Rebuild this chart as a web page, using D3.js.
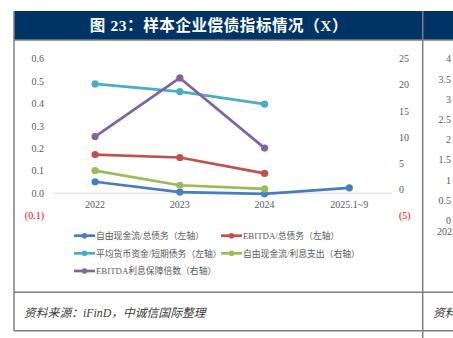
<!DOCTYPE html>
<html><head><meta charset="utf-8">
<script src="https://cdn.jsdelivr.net/npm/d3@7"></script>
<style>
html,body{margin:0;padding:0;background:#fff;}
svg{display:block;}
</style></head>
<body><svg id="c" width="453" height="338"></svg>
<script>
// ---- data ----
const categories = ["2022","2023","2024","2025.1~9"];
const fcfDebt      = [0.051, 0.005, -0.003, 0.024];   // 自由现金流/总债务 (left)
const ebitdaDebt   = [0.172, 0.159, 0.088, null];     // EBITDA/总债务 (left)
const cashShort    = [0.487, 0.453, 0.397, null];     // 平均货币资金/短期债务 (left)
const fcfInterest  = [3.6, 0.8, 0.1, null];           // 自由现金流/利息支出 (right)
const ebitdaCover  = [10.1, 21.3, 7.9, null];         // EBITDA利息保障倍数 (right)
const leftTicks  = [-0.1,0,0.1,0.2,0.3,0.4,0.5,0.6];
const rightTicks = [-5,0,5,10,15,20,25];
const neighborTicks = ["4","3.5","3","2.5","2","1.5","1","0.5","0"];
const seriesNames = ["自由现金流/总债务（左轴）","EBITDA/总债务（左轴）","平均货币资金/短期债务（左轴）","自由现金流/利息支出（右轴）","EBITDA利息保障倍数（右轴）"];
const titleText = "图 23：样本企业偿债指标情况（X）";
const sourceText = "资料来源：iFinD，中诚信国际整理";

const series = [
  {name:seriesNames[0], values:fcfDebt,     axis:"L", color:"#4A7CC0"},
  {name:seriesNames[1], values:ebitdaDebt,  axis:"L", color:"#C0504D"},
  {name:seriesNames[2], values:cashShort,   axis:"L", color:"#4BACC6"},
  {name:seriesNames[3], values:fcfInterest, axis:"R", color:"#9BBB59"},
  {name:seriesNames[4], values:ebitdaCover, axis:"R", color:"#8064A2"}
];

const svg = d3.select("#c");
const serif = "'Liberation Serif','Times New Roman','Noto Sans CJK SC',serif";
const frame = "#7f7f7f";

// ---- frame / title ----
svg.append("rect").attr("x",14).attr("y",11).attr("width",439).attr("height",29).attr("fill","#003366");
svg.append("text").attr("x",219).attr("y",31).attr("text-anchor","middle")
  .attr("fill","#fff").attr("font-family","'Liberation Serif','Noto Sans CJK SC',serif")
  .attr("font-weight","bold").attr("font-size",15.5).attr("letter-spacing",0.6).text(titleText);
const fl = [[14,11,14,331],[422.7,11,422.7,338],[14,40,453,40],[14,292.3,453,292.3],[14,330.7,453,330.7]];
svg.selectAll("line.frame").data(fl).enter().append("line").attr("class","frame")
  .attr("x1",d=>d[0]).attr("y1",d=>d[1]).attr("x2",d=>d[2]).attr("y2",d=>d[3])
  .attr("stroke",frame).attr("stroke-width",1.5);

// ---- scales ----
const x = d3.scaleBand().domain(categories).range([52.7,391.7]).padding(0);
const cx = c => x(c) + x.bandwidth()/2;
const yL = d3.scaleLinear().domain([-0.1,0.6]).range([215.6,58.6]);
const yR = d3.scaleLinear().domain([-5,25]).range([215.6,58.6]);

const fmtL = v => v < 0 ? "(" + d3.format(".1f")(-v) + ")" : d3.format(".1f")(v);
const fmtR = v => v < 0 ? "(" + (-v) + ")" : String(v);

// left axis
const gL = svg.append("g").attr("transform","translate(44,0)")
  .call(d3.axisLeft(yL).tickValues(leftTicks).tickFormat(fmtL).tickSize(0).tickPadding(0));
gL.select(".domain").remove();
gL.selectAll("text").attr("font-family",serif).attr("font-size",10)
  .attr("fill",d=>d<0?"#FF0000":"#595959");

// right axis
const gR = svg.append("g").attr("transform","translate(399,0)")
  .call(d3.axisRight(yR).tickValues(rightTicks).tickFormat(fmtR).tickSize(0).tickPadding(0));
gR.select(".domain").remove();
gR.selectAll("text").attr("font-family",serif).attr("font-size",10)
  .attr("fill",d=>d<0?"#FF0000":"#595959");

// baseline gridline at left 0
svg.append("line").attr("x1",x.range()[0]).attr("x2",x.range()[1])
  .attr("y1",yL(0)).attr("y2",yL(0)).attr("stroke","#d9d9d9").attr("stroke-width",1);

// x axis labels
const gX = svg.append("g").attr("transform","translate(0,201)")
  .call(d3.axisBottom(x).tickSize(0).tickPadding(0));
gX.select(".domain").remove();
gX.selectAll("text").attr("font-family",serif).attr("font-size",10).attr("fill","#595959");

// ---- lines ----
series.forEach(s=>{
  const y = s.axis==="L" ? yL : yR;
  const pts = categories.map((c,i)=>({c, v:s.values[i]})).filter(d=>d.v!==null);
  const line = d3.line().x(d=>cx(d.c)).y(d=>y(d.v));
  svg.append("path").datum(pts).attr("d",line).attr("fill","none")
    .attr("stroke",s.color).attr("stroke-width",2.7).attr("stroke-linejoin","round");
  svg.selectAll(null).data(pts).enter().append("circle")
    .attr("cx",d=>cx(d.c)).attr("cy",d=>y(d.v)).attr("r",3.6).attr("fill",s.color);
});

// ---- legend ----
const legPos = [[74,235.7],[221,235.7],[74,253.3],[221,253.3],[74,271]];
series.forEach((s,i)=>{
  const [lx,ly] = legPos[i];
  const g = svg.append("g");
  g.append("line").attr("x1",lx).attr("x2",lx+21).attr("y1",ly).attr("y2",ly)
    .attr("stroke",s.color).attr("stroke-width",2.7);
  g.append("circle").attr("cx",lx+10.5).attr("cy",ly).attr("r",2.8).attr("fill",s.color);
  g.append("text").attr("x",lx+22).attr("y",ly+3.2).attr("font-family",serif)
    .attr("font-size",8.8).attr("fill","#595959").text(s.name);
});

// ---- source ----
svg.append("text").attr("x",24).attr("y",316.5).attr("font-family",serif)
  .attr("font-style","italic").attr("font-size",11.8).attr("fill","#404040").text(sourceText);

// ---- neighbouring panel (cropped) ----
const yN = d3.scaleLinear().domain([0,neighborTicks.length-1]).range([58.8,220.7]);
svg.selectAll("text.nb").data(neighborTicks).enter().append("text").attr("class","nb")
  .attr("x",451).attr("y",(d,i)=>yN(i)+3.5).attr("text-anchor","end")
  .attr("font-family",serif).attr("font-size",10).attr("fill","#595959").text(d=>d);
svg.append("text").attr("x",437).attr("y",234.5).attr("font-family",serif)
  .attr("font-size",10).attr("fill","#595959").text("2022");
svg.append("text").attr("x",433).attr("y",316.5).attr("font-family",serif)
  .attr("font-style","italic").attr("font-size",11.8).attr("fill","#404040").text("资料");
</script></body></html>
